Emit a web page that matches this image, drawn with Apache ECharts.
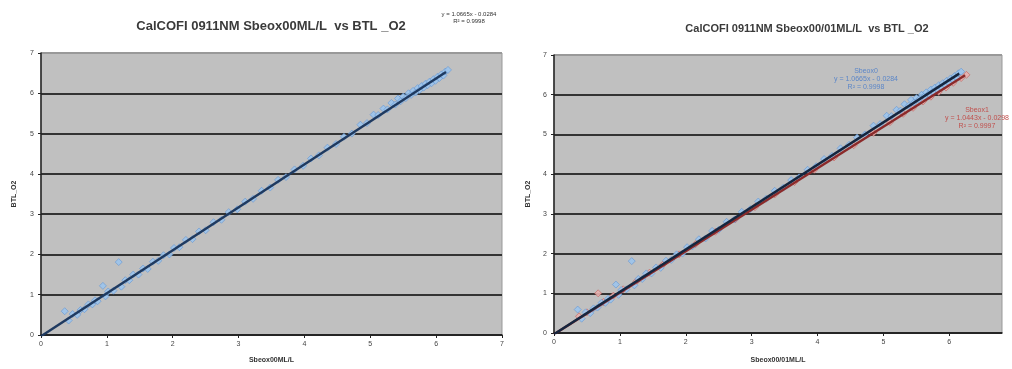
<!DOCTYPE html>
<html>
<head>
<meta charset="utf-8">
<script src="https://cdn.jsdelivr.net/npm/echarts@6/dist/echarts.min.js"></script>
<style>
  html, body { margin: 0; padding: 0; background: #fff; }
  #chart { width: 1012px; height: 369px; }
</style>
</head>
<body>
<div id="chart"></div>
<script>
  // Sbeox0 (ML/L) vs bottle O2
  const sbeox0 = [
    [0.36, 0.59], [0.42, 0.36], [0.48, 0.52], [0.55, 0.50], [0.60, 0.62],
    [0.66, 0.64], [0.72, 0.76], [0.78, 0.76], [0.82, 0.86], [0.86, 0.84],
    [0.94, 1.22], [0.98, 0.96], [1.02, 1.08], [1.10, 1.10], [1.18, 1.81],
    [1.22, 1.20], [1.28, 1.36], [1.34, 1.36], [1.40, 1.50], [1.48, 1.50],
    [1.55, 1.65], [1.62, 1.64], [1.70, 1.82], [1.78, 1.84], [1.86, 1.98],
    [1.95, 2.00], [2.02, 2.16], [2.10, 2.18], [2.20, 2.36], [2.30, 2.38],
    [2.40, 2.57], [2.50, 2.60], [2.62, 2.80], [2.74, 2.86], [2.85, 3.05],
    [2.98, 3.12], [3.10, 3.31], [3.22, 3.38], [3.35, 3.58], [3.48, 3.66],
    [3.60, 3.85], [3.72, 3.92], [3.85, 4.11], [3.98, 4.20], [4.10, 4.38],
    [4.22, 4.46], [4.35, 4.65], [4.48, 4.74], [4.60, 4.92], [4.72, 5.00],
    [4.85, 5.22], [4.95, 5.26], [5.05, 5.47], [5.12, 5.46], [5.20, 5.62],
    [5.26, 5.60], [5.32, 5.76], [5.38, 5.72], [5.42, 5.87], [5.46, 5.80],
    [5.50, 5.92], [5.54, 5.88], [5.58, 6.00], [5.62, 5.96], [5.65, 6.06],
    [5.69, 6.02], [5.72, 6.13], [5.75, 6.08], [5.78, 6.18], [5.81, 6.14],
    [5.84, 6.24], [5.87, 6.20], [5.90, 6.29], [5.93, 6.25], [5.96, 6.35],
    [5.99, 6.31], [6.02, 6.41], [6.05, 6.38], [6.08, 6.47], [6.11, 6.44],
    [6.14, 6.54], [6.18, 6.58]
  ];
  // Sbeox1 (ML/L) vs bottle O2
  const sbeox1 = [
    [0.38, 0.42], [0.50, 0.52], [0.67, 1.00], [0.75, 0.78], [0.90, 0.94],
    [1.05, 1.10], [1.25, 1.30], [1.45, 1.52], [1.65, 1.72], [1.90, 1.98],
    [2.15, 2.24], [2.45, 2.55], [2.75, 2.86], [3.05, 3.17], [3.35, 3.49],
    [3.65, 3.80], [3.95, 4.11], [4.25, 4.42], [4.55, 4.73], [4.85, 5.04],
    [5.10, 5.31], [5.30, 5.52], [5.45, 5.67], [5.60, 5.83], [5.72, 5.95],
    [5.84, 6.07], [5.95, 6.18], [6.06, 6.30], [6.18, 6.42], [6.26, 6.50]
  ];
  // linear trend lines (Excel), endpoints
  const trend0 = [[0, -0.03], [6.15, 6.53]];
  const trend1 = [[0, -0.03], [6.24, 6.49]];

  const titles = ['CalCOFI 0911NM Sbeox00ML/L  vs BTL _O2', 'CalCOFI 0911NM Sbeox00/01ML/L  vs BTL _O2'];
  const xNames = ['Sbeox00ML/L', 'Sbeox00/01ML/L'];
  const yName = 'BTL_O2';
  const eq0 = 'y = 1.0665x - 0.0284\nR² = 0.9998';
  const eq1 = 'y = 1.0443x - 0.0298\nR² = 0.9997';

  const gridLines = ['#333', '#333', '#333', '#333', '#333', '#333', '#333', '#999'];

  function xAxis(idx, max, gap) {
    return {
      gridIndex: idx, type: 'value', min: 0, max: max, interval: 1,
      name: xNames[idx], nameLocation: 'middle', nameGap: gap,
      nameTextStyle: { fontSize: 7, fontWeight: 'bold', color: '#333', fontFamily: 'Liberation Sans' },
      axisLine: { lineStyle: { color: '#222', width: 1.5 } },
      axisTick: { show: true, length: 3, lineStyle: { color: '#222' } },
      axisLabel: { fontSize: 7, color: '#444', margin: 6, fontFamily: 'Liberation Sans', showMaxLabel: max === 7 },
      splitLine: { show: false }
    };
  }
  function yAxis(idx, gap) {
    return {
      gridIndex: idx, type: 'value', min: 0, max: 7, interval: 1,
      name: yName, nameLocation: 'middle', nameGap: gap,
      nameTextStyle: { fontSize: 7, fontWeight: 'bold', color: '#333', fontFamily: 'Liberation Sans' },
      axisLine: { show: true, lineStyle: { color: '#222', width: 1.5 } },
      axisTick: { show: true, length: 3, lineStyle: { color: '#222' } },
      axisLabel: { fontSize: 7, color: '#444', margin: 7, fontFamily: 'Liberation Sans' },
      splitLine: { show: true, lineStyle: { color: gridLines, width: 2 } }
    };
  }
  function points(idx, data, color, border) {
    return {
      type: 'scatter', xAxisIndex: idx, yAxisIndex: idx, data: data,
      symbol: 'diamond', symbolSize: 7,
      itemStyle: { color: color, borderColor: border, borderWidth: 0.6, opacity: 0.9 }, z: 2
    };
  }
  function trend(idx, data, color) {
    return {
      type: 'line', xAxisIndex: idx, yAxisIndex: idx, data: data,
      showSymbol: false, lineStyle: { color: color, width: 2.5 }, z: 3
    };
  }

  const chart = echarts.init(document.getElementById('chart'));
  chart.setOption({
    backgroundColor: '#fff',
    animation: false,
    title: [
      { text: titles[0], left: 266, top: 15, textAlign: 'center',
        textStyle: { fontSize: 13, fontWeight: 'bold', color: '#3a3a3a', fontFamily: 'Liberation Sans' } },
      { text: titles[1], left: 802, top: 18, textAlign: 'center',
        textStyle: { fontSize: 11, fontWeight: 'bold', color: '#3a3a3a', fontFamily: 'Liberation Sans' } }
    ],
    grid: [
      { left: 41, top: 53, width: 461, height: 285, show: true,
        backgroundColor: '#c0c0c0', borderColor: '#999', borderWidth: 1 },
      { left: 554, top: 55, width: 448, height: 285, show: true,
        backgroundColor: '#c0c0c0', borderColor: '#999', borderWidth: 1 }
    ],
    xAxis: [xAxis(0, 7, 22), xAxis(1, 6.8, 24)],
    yAxis: [yAxis(0, 23), yAxis(1, 22)],
    graphic: [
      { type: 'text', x: 469, y: 11,
        style: { text: eq0, fontSize: 6, lineHeight: 7, fill: '#333', align: 'center', fontFamily: 'Liberation Sans' } },
      { type: 'text', x: 866, y: 67,
        style: { text: 'Sbeox0\n' + eq0, fontSize: 7, lineHeight: 8, fill: '#5b86c8', align: 'center', fontFamily: 'Liberation Sans' } },
      { type: 'text', x: 977, y: 106,
        style: { text: 'Sbeox1\n' + eq1, fontSize: 7, lineHeight: 8, fill: '#c0504d', align: 'center', fontFamily: 'Liberation Sans' } }
    ],
    series: [
      points(0, sbeox0, '#9cc4ec', '#5b8fd0'),
      trend(0, trend0, '#1f3a60'),
      points(1, sbeox1, '#e6b0ae', '#c0504d'),
      points(1, sbeox0, '#9cc4ec', '#5b8fd0'),
      trend(1, trend1, '#8b2a2a'),
      trend(1, trend0, '#15263f')
    ]
  });
</script>
</body>
</html>
